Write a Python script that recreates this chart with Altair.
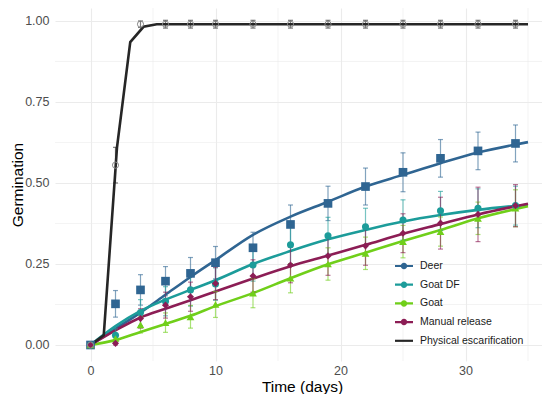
import altair as alt
import pandas as pd

series = ["Deer", "Goat DF", "Goat", "Manual release", "Physical escarification"]
colors = ["#2F6592", "#1C9C9A", "#70CF1A", "#8C1D55", "#262626"]
marker_shapes = ["square", "circle", "triangle-up", "diamond", "circle"]

obs_days = [0, 2, 4, 6, 8, 10, 13, 16, 19, 22, 25, 28, 31, 34]
deer_obs = [0, 0.127, 0.17, 0.197, 0.221, 0.254, 0.30, 0.372, 0.437, 0.489, 0.533, 0.576, 0.599, 0.622]
deer_err = [0.005, 0.041, 0.047, 0.045, 0.049, 0.05, 0.048, 0.06, 0.053, 0.057, 0.06, 0.058, 0.058, 0.057]
goatdf_obs = [0, 0.03, 0.10, 0.135, 0.17, 0.188, 0.247, 0.309, 0.337, 0.365, 0.386, 0.414, 0.422, 0.43]
goatdf_err = [0.005, 0.02, 0.04, 0.045, 0.05, 0.05, 0.05, 0.058, 0.057, 0.057, 0.062, 0.06, 0.06, 0.06]
goat_obs = [0, 0.02, 0.062, 0.069, 0.087, 0.125, 0.16, 0.206, 0.25, 0.283, 0.319, 0.35, 0.391, 0.422]
goat_err = [0.005, 0.015, 0.025, 0.03, 0.035, 0.04, 0.045, 0.045, 0.05, 0.05, 0.05, 0.045, 0.05, 0.057]
manual_obs = [0, 0.005, 0.082, 0.123, 0.149, 0.19, 0.213, 0.247, 0.275, 0.306, 0.345, 0.376, 0.403, 0.43]
manual_err = [0.005, 0.01, 0.03, 0.04, 0.045, 0.05, 0.05, 0.055, 0.06, 0.06, 0.06, 0.08, 0.084, 0.065]
phys_obs = [0, 0.555, 0.99, 0.99, 0.99, 0.99, 0.99, 0.99, 0.99, 0.99, 0.99, 0.99, 0.99, 0.99]
phys_err = [0.003, 0.055, 0.01, 0.012, 0.012, 0.012, 0.012, 0.012, 0.012, 0.012, 0.012, 0.012, 0.012, 0.012]

fit_days = [0, 2, 4, 6, 8, 10, 13, 16, 19, 22, 25, 28, 31, 35]
deer_fit = [0, 0.05, 0.10, 0.155, 0.21, 0.262, 0.34, 0.396, 0.442, 0.489, 0.525, 0.561, 0.594, 0.626]
goatdf_fit = [0, 0.058, 0.105, 0.14, 0.17, 0.2, 0.25, 0.29, 0.326, 0.355, 0.381, 0.401, 0.417, 0.433]
goat_fit = [0, 0.015, 0.04, 0.065, 0.09, 0.12, 0.16, 0.206, 0.249, 0.285, 0.321, 0.355, 0.391, 0.428]
manual_fit = [0, 0.045, 0.085, 0.112, 0.138, 0.165, 0.205, 0.243, 0.276, 0.309, 0.343, 0.373, 0.403, 0.436]
phys_fit_days = [0, 1.06, 2.12, 3.18, 4.24, 5.3, 6.36, 35]
phys_fit = [0, 0.03, 0.61, 0.935, 0.982, 0.99, 0.99, 0.99]

x_major = [0, 10, 20, 30]
x_minor = [5, 15, 25, 35]
y_major = [0, 0.25, 0.5, 0.75, 1.0]
y_minor = [0.125, 0.375, 0.625, 0.875]

# legend symbols: line with dot / plain line
line_dot = "M-1,-0.12L1,-0.12L1,0.12L-1,0.12Z M0.36,0A0.36,0.36 0 1,1 -0.36,0A0.36,0.36 0 1,1 0.36,0Z"
line_only = "M-1,-0.12L1,-0.12L1,0.12L-1,0.12Z"
legend_paths = [line_dot, line_dot, line_dot, line_dot, line_only]

obs_vals = [deer_obs, goatdf_obs, goat_obs, manual_obs, phys_obs]
obs_errs = [deer_err, goatdf_err, goat_err, manual_err, phys_err]
rows = []
for s, vals, errs in zip(series, obs_vals, obs_errs):
    for d, v, e in zip(obs_days, vals, errs):
        rows.append({"series": s, "day": d, "val": v, "lo": max(v - e, 0), "hi": v + e})
obs = pd.DataFrame(rows)

frows = []
for s, vals in zip(series[:4], [deer_fit, goatdf_fit, goat_fit, manual_fit]):
    for d, v in zip(fit_days, vals):
        frows.append({"series": s, "day": d, "val": v})
for d, v in zip(phys_fit_days, phys_fit):
    frows.append({"series": series[4], "day": d, "val": v})
fit = pd.DataFrame(frows)

xgrid = pd.DataFrame({"day": x_minor})
ygrid = pd.DataFrame({"val": y_minor})

cscale = alt.Scale(domain=series, range=colors)


def X(field="day"):
    return alt.X(
        f"{field}:Q",
        scale=alt.Scale(domain=[-2.84, 36.12], nice=False, zero=False),
        axis=alt.Axis(values=x_major, title="Time (days)", labelPadding=3,
                      titleY=30, titleBaseline="alphabetic", titleX=247),
    )


def Y(field="val"):
    return alt.Y(
        f"{field}:Q",
        scale=alt.Scale(domain=[-0.0494, 1.04], nice=False, zero=False),
        axis=alt.Axis(values=y_major, format=".2f", title="Germination", labelPadding=6,
                      titleX=-33, titleBaseline="alphabetic"),
    )


layers = [
    alt.Chart(xgrid).mark_rule(color="#EBEBEB", strokeWidth=0.6).encode(x=X()),
    alt.Chart(ygrid).mark_rule(color="#EBEBEB", strokeWidth=0.6).encode(y=Y()),
]

# fitted curves
for s, c in zip(series, colors):
    interp = "linear" if s == "Physical escarification" else "monotone"
    layers.append(
        alt.Chart(fit).transform_filter(alt.datum.series == s)
        .mark_line(strokeWidth=2.6, interpolate=interp, color=c)
        .encode(x=X(), y=Y())
    )

# error bars
for s, c in zip(series, colors):
    layers.append(
        alt.Chart(obs).transform_filter(alt.datum.series == s)
        .mark_errorbar(ticks={"size": 5}, thickness=1.2, opacity=0.6, color=c)
        .encode(x=X(), y=Y("lo"), y2="hi:Q")
    )

# observed points
sizes = [75, 50, 60, 50, 38]
for s, c, shp, sz in zip(series, colors, marker_shapes, sizes):
    if s == "Physical escarification":
        mk = dict(shape=shp, size=sz, filled=False, color="#8A8A8A", strokeWidth=1, opacity=1)
    else:
        mk = dict(shape=shp, size=sz, filled=True, color=c, opacity=1)
    layers.append(
        alt.Chart(obs).transform_filter(alt.datum.series == s).mark_point(**mk).encode(x=X(), y=Y())
    )

# legend (only carrier of the color / shape scales)
leg = dict(orient="none", legendX=340, legendY=249, title=None, labelFontSize=10.5,
           labelColor="#1A1A1A", symbolSize=324, symbolStrokeWidth=0, rowPadding=3.7,
           labelOffset=7, padding=0)
layers.append(
    alt.Chart(obs).transform_filter("false").mark_point(filled=True, opacity=1).encode(
        color=alt.Color("series:N", scale=cscale, legend=alt.Legend(**leg), title=None),
        shape=alt.Shape("series:N", scale=alt.Scale(domain=series, range=legend_paths),
                        legend=alt.Legend(**leg), title=None),
    )
)

chart = alt.layer(*layers).properties(
    width=487, height=353,
    padding={"left": 47, "top": 0, "right": 0, "bottom": 33},
    autosize=alt.AutoSizeParams(type="none"),
).configure(font="Liberation Sans").configure_view(stroke=None).configure_axis(
    grid=True, gridColor="#EBEBEB", gridWidth=1.1, ticks=False, domain=False,
    labelFontSize=12.5, labelColor="#4D4D4D", titleFontSize=15.5, titleFontWeight="normal",
    titleColor="#000000",
)

chart.save("out.html", embed_options={"renderer": "svg", "actions": False})
